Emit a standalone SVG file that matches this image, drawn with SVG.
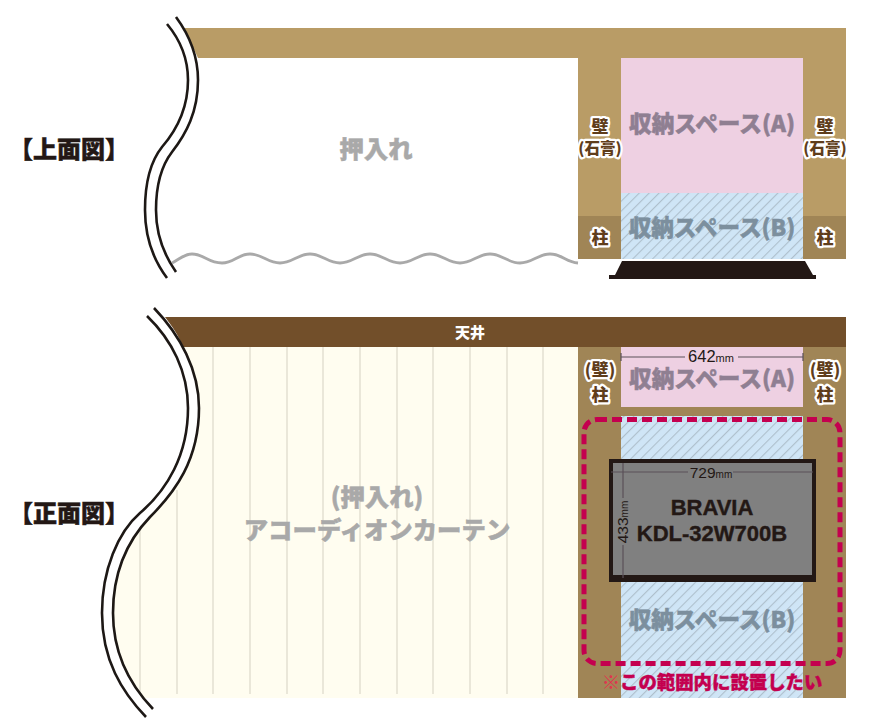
<svg xmlns="http://www.w3.org/2000/svg" width="872" height="724" viewBox="0 0 872 724">
<style>
text{font-family:"Noto Sans CJK JP","Noto Sans",sans-serif;font-weight:900;text-anchor:middle}
.sa{font-size:22.6px;fill:#8f7f92;stroke:#8f7f92;stroke-width:.5px}
.sb{font-size:22.6px;fill:#7c8f9e;stroke:#7c8f9e;stroke-width:.5px}
.big{font-size:24.400px;fill:#a9a9a9;stroke:#a9a9a9;stroke-width:.5px}
.ttl{font-size:24px;fill:#231815;stroke:#231815;stroke-width:.5px}
.lab{font-size:17px;fill:#5f3d1b;stroke:#fff;stroke-width:4.5px;paint-order:stroke;stroke-linejoin:round}
.lab2{font-size:15.500px}
.dim{font-family:"Liberation Sans",Arial,sans-serif;font-weight:400;fill:#231815}
.dl{stroke:#5a5058;stroke-width:1.2;fill:none}
.tv{font-family:"Liberation Sans",Arial,sans-serif;font-weight:700;font-size:22px;fill:#231815;stroke:#231815;stroke-width:.4px}
.cut{fill:none;stroke:#1d1815;stroke-width:2.6}
.wall{fill:#b99c66}.post{fill:#a08556}
.pink{fill:#eed0e2}
</style>
<defs>
<pattern id="h" width="7" height="7" patternUnits="userSpaceOnUse" patternTransform="rotate(45)">
<rect width="7" height="7" fill="#cfe5f6"/>
<rect width="1.1" height="7" fill="#aebfcc"/>
</pattern>
</defs>
<rect width="872" height="724" fill="#fff"/>

<g id="top-view">
<path class="wall" d="M184 28H846V259H803V58H621V259H578V58H198Z"/>
<rect class="post" x="578" y="216" width="43" height="43"/>
<rect class="post" x="803" y="216" width="43" height="43"/>
<rect class="pink" x="621" y="58" width="182" height="135"/>
<rect x="621" y="193" width="182" height="66" fill="url(#h)"/>
<path d="M172 263C180 259 184 254 192 254C204 254 208 263 222 263C234 263 238 254 250 254C262 254 268 263 280 263C292 263 298 254 310 254C322 254 328 263 340 263C352 263 358 254 370 254C382 254 388 263 400 263C412 263 418 254 430 254C442 254 448 263 460 263C472 263 478 254 490 254C502 254 508 263 520 263C532 263 538 254 550 254C562 254 566 262 578 263" fill="none" stroke="#a9a9a9" stroke-width="2.800"/>
<path d="M622 261H805L813 275H816V279H609V275H615Z" fill="#231815"/>
<path d="M167 24C182 42 188 60 188 80C188 110 175 132 162 147C150 162 145 185 145 210C145 240 155 262 167 278L176 272C162 252 156 232 156 210C156 185 162 165 172 152C186 134 198 112 198 80C198 58 190 36 176 17Z" fill="#fff"/>
<path class="cut" d="M176 17C190 36 198 58 198 80C198 112 186 134 172 152C162 165 156 185 156 210C156 232 162 252 176 272"/>
<path class="cut" d="M167 24C182 42 188 60 188 80C188 110 175 132 162 147C150 162 145 185 145 210C145 240 155 262 167 278"/>
</g>

<g id="front-view">
<path d="M578 347V698H140C126 680 113 650 113 613C113 570 128 540 150 517C175 492 199 460 199 408C199 385 193 365 183 347Z" fill="#fffdf0"/>
<g stroke="#dcd9ca" stroke-width="1.2">
<path d="M140 530V694M177 490V694M213 347V694M250 347V694M287 347V694M323 347V694M360 347V694M397 347V694M433 347V694M470 347V694M507 347V694M543 347V694"/>
</g>
<path d="M165 317H846V347H183C179 336 172 326 165 317Z" fill="#724f2a"/>
<rect class="post" x="578" y="347" width="268" height="351"/>
<rect class="pink" x="621" y="347" width="182" height="60"/>
<rect x="621" y="416" width="182" height="282" fill="url(#h)"/>
<path d="M147 316C172 340 188 372 188 408C188 455 167 490 140 513C118 532 102 570 102 613C102 660 122 692 146 717L153 709C131 686 113 655 113 613C113 570 128 540 150 517C175 492 199 460 199 408C199 370 180 335 154 308Z" fill="#fff"/>
<path class="cut" d="M154 308C180 335 199 370 199 408C199 460 175 492 150 517C128 540 113 570 113 613C113 655 131 686 153 709"/>
<path class="cut" d="M147 316C172 340 188 372 188 408C188 455 167 490 140 513C118 532 102 570 102 613C102 660 122 692 146 717"/>
<rect x="611" y="461" width="203" height="119" fill="#808080" stroke="#231815" stroke-width="4"/>
<rect x="609" y="575" width="207" height="6" fill="#231815"/>
<rect x="584" y="419.500" width="256" height="244" rx="13" fill="none" stroke="#c4004f" stroke-width="5" stroke-dasharray="10 5"/>
</g>

<g id="labels">
<text class="ttl" x="69" y="158">【上面図】</text>
<text class="ttl" x="69" y="522">【正面図】</text>
<text class="big" x="376" y="158">押入れ</text>
<text class="big" x="377" y="506">(押入れ)</text>
<text class="big" x="377" y="539">アコーディオンカーテン</text>
<text x="470" y="338" style="font-size:15px;fill:#fff">天井</text>
<text class="sa" x="712" y="132">収納スペース(A)</text>
<text class="sb" x="712" y="236">収納スペース(B)</text>
<text class="sa" x="712" y="387">収納スペース(A)</text>
<text class="sb" x="712" y="628">収納スペース(B)</text>
<text class="lab" x="600" y="133">壁</text>
<text class="lab lab2" x="600" y="154">(石膏)</text>
<text class="lab" x="825" y="133">壁</text>
<text class="lab lab2" x="825" y="154">(石膏)</text>
<text class="lab" x="600" y="244">柱</text>
<text class="lab" x="825" y="244">柱</text>
<text class="lab" x="600" y="376">(壁)</text>
<text class="lab" x="600" y="401">柱</text>
<text class="lab" x="825" y="376">(壁)</text>
<text class="lab" x="825" y="401">柱</text>
<path class="dl" d="M621 357H685M738 357H803M621 353V361M803 353V361"/>
<text class="dim" x="711" y="362" style="font-size:16.500px">642<tspan style="font-size:11px">mm</tspan></text>
<path class="dl" d="M611 472H688M733 472H813"/>
<text class="dim" x="711" y="478" style="font-size:15.500px">729<tspan style="font-size:10px">mm</tspan></text>
<path class="dl" d="M623 463V498M623 545V578"/>
<text class="dim" transform="translate(628 522) rotate(-90)" style="font-size:15.500px">433<tspan style="font-size:10px">mm</tspan></text>
<text class="tv" x="712" y="515">BRAVIA</text>
<text class="tv" x="712" y="541">KDL-32W700B</text>
<text x="712" y="689" style="font-size:18.400px;fill:#c4004f;stroke:#c4004f;stroke-width:.4px"><tspan style="fill:#e0334f;stroke:none">※</tspan>この範囲内に設置したい</text>
</g>
</svg>
